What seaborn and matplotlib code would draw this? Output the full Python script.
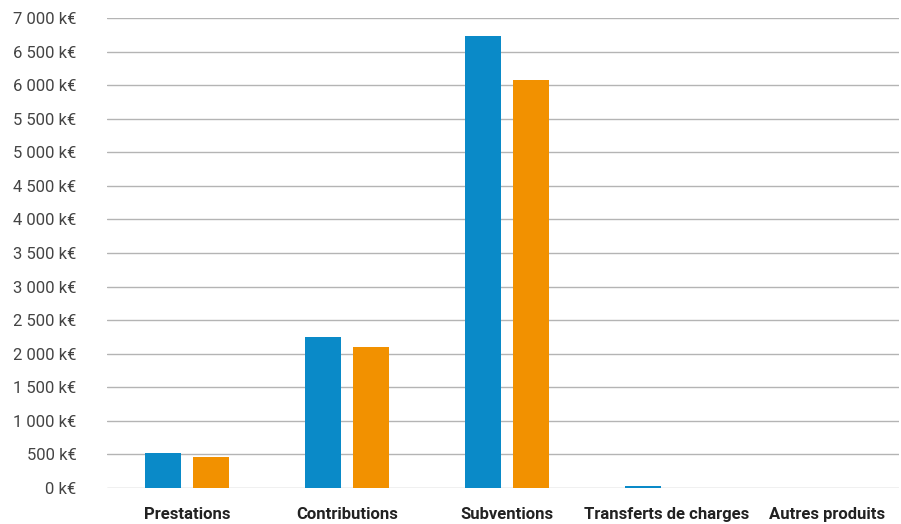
import matplotlib
matplotlib.use('Agg')
import matplotlib.pyplot as plt
import seaborn as sns
import pandas as pd
from matplotlib.ticker import FuncFormatter, MultipleLocator

categories = ["Prestations", "Contributions", "Subventions", "Transferts de charges", "Autres produits"]
serie_a = [520, 2250, 6730, 35, 0]
serie_b = [460, 2100, 6080, 0, 0]
series = ["A", "B"]
colors = ["#0a8ac8", "#f29100"]

df = pd.DataFrame({
    "categorie": categories * 2,
    "valeur": serie_a + serie_b,
    "serie": [series[0]] * len(categories) + [series[1]] * len(categories),
})

sns.set_style("white")
plt.rcParams['font.family'] = ['Roboto', 'DejaVu Sans']

fig = plt.figure(figsize=(9.01, 5.24), dpi=100)
ax = fig.add_axes([107 / 901, 36 / 524, 792 / 901, 470 / 524])

sns.barplot(data=df, x="categorie", y="valeur", hue="serie", palette=colors,
            width=0.6, gap=0.25, saturation=1, legend=False, linewidth=0, ax=ax)

ax.set_xlim(-0.5, 4.45)
ax.set_ylim(0, 7000)
ax.yaxis.set_major_locator(MultipleLocator(500))
ax.yaxis.set_major_formatter(FuncFormatter(lambda v, p: f"{int(v):,} k€".replace(",", " ")))
ax.grid(axis="y", color="#b4b4b4", linewidth=1)
ax.set_axisbelow(True)
for s in ax.spines.values():
    s.set_visible(False)
ax.set_xlabel("")
ax.set_ylabel("")
ax.tick_params(axis="y", length=0, pad=22, labelsize=12, labelcolor="#444444")
ax.tick_params(axis="x", length=0, pad=14, labelsize=12, labelcolor="#222222")
for lbl in ax.get_xticklabels():
    lbl.set_fontweight("semibold")

fig.savefig("out.png", dpi=100)
